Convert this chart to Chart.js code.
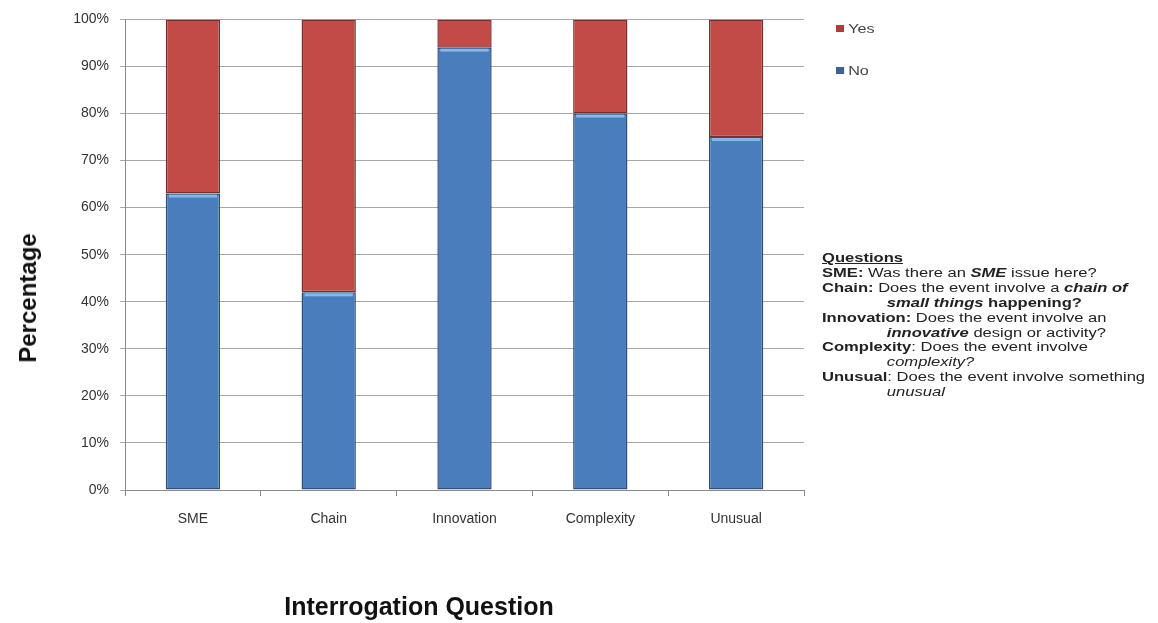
<!DOCTYPE html>
<html>
<head>
<meta charset="utf-8">
<script src="https://cdn.jsdelivr.net/npm/chart.js@4.4.1/dist/chart.umd.min.js"></script>
<style>
  body { margin: 0; background: #fff; font-family: "Liberation Sans", Arial, sans-serif; }
  #wrap { position: relative; width: 1158px; height: 623px; }
  .abs { position: absolute; white-space: nowrap; }
  .ytitle { left: 28px; top: 298px; font-size: 24px; font-weight: bold; color: #111;
            transform: translate(-50%, -50%) rotate(-90deg); }
  .xtitle { left: 419px; top: 594px; font-size: 25px; font-weight: bold; color: #111;
            transform: translate(-50%, 0); line-height: 25px; }
  .leg { font-size: 12px; color: #444; line-height: 14px; transform: scaleX(1.35); transform-origin: left center; }
  .leg i { display: inline-block; width: 6px; height: 7px; margin-right: 3px; vertical-align: 1px; }
  #notes { left: 822px; top: 251px; font-size: 12px; color: #222; line-height: 14.9px;
           transform: scaleX(1.38); transform-origin: left top; }
  #notes .ind { padding-left: 47px; }
</style>
</head>
<body>
<div id="wrap">
  <canvas id="chart"></canvas>
  <div class="abs ytitle">Percentage</div>
  <div class="abs xtitle">Interrogation Question</div>
  <div class="abs leg" style="left:836px;top:22px"><i style="background:#b23c39"></i>Yes</div>
  <div class="abs leg" style="left:836px;top:64px"><i style="background:#3f5f99"></i>No</div>
  <div class="abs" id="notes">
    <div><b><u>Questions</u></b></div>
    <div><b>SME:</b> Was there an <b><i>SME</i></b> issue here?</div>
    <div><b>Chain:</b> Does the event involve a <b><i>chain of</i></b></div>
    <div class="ind"><b><i>small things</i> happening?</b></div>
    <div><b>Innovation:</b> Does the event involve an</div>
    <div class="ind"><b><i>innovative</i></b> design or activity?</div>
    <div><b>Complexity</b>: Does the event involve</div>
    <div class="ind"><i>complexity?</i></div>
    <div><b>Unusual</b>: Does the event involve something</div>
    <div class="ind"><i>unusual</i></div>
  </div>
</div>
<script>
const categories = ["SME", "Chain", "Innovation", "Complexity", "Unusual"]
const noValues   = [63, 42, 94, 80, 75]
const yesValues  = [37, 58, 6, 20, 25]
const yTicks     = [0, 10, 20, 30, 40, 50, 60, 70, 80, 90, 100]

// light strip on top of each blue segment, like the Excel bevel
const highlight = {
  id: "highlight",
  afterDatasetDraw(chart, args) {
    if (args.index !== 0) return
    const ctx = chart.ctx
    ctx.save()
    ctx.fillStyle = "rgba(140,190,240,0.9)"
    for (const el of args.meta.data) {
      ctx.fillRect(el.x - el.width / 2 + 3, el.y + 1, el.width - 6, 3)
    }
    ctx.restore()
  },
}

new Chart(document.getElementById("chart"), {
  type: "bar",
  data: {
    labels: categories,
    datasets: [
      { label: "No", data: noValues, backgroundColor: "#4a7dbb", borderColor: "#2f4f7a", borderWidth: 1.5, borderSkipped: false },
      { label: "Yes", data: yesValues, backgroundColor: "#c24b47", borderColor: "#7a2e2c", borderWidth: 1.5, borderSkipped: false },
    ],
  },
  options: {
    responsive: true,
    maintainAspectRatio: false,
    animation: false,
    layout: { padding: { top: 16, right: 354, left: 0, bottom: 0 } },
    datasets: { bar: { barPercentage: 0.4, categoryPercentage: 1 } },
    scales: {
      x: {
        stacked: true,
        afterFit: (s) => { s.height = 133 },
        grid: { offset: true, drawOnChartArea: false, tickLength: 6, color: "#8a8a8a" },
        border: { color: "#8a8a8a" },
        ticks: { padding: 15, color: "#333", font: { family: "Liberation Sans", size: 14 } },
      },
      y: {
        stacked: true,
        min: 0,
        max: 100,
        afterFit: (s) => { s.width = 125 },
        afterBuildTicks: (s) => { s.ticks = yTicks.map(v => ({ value: v })) },
        grid: { color: "#a8a8a8", tickLength: 5 },
        border: { color: "#8a8a8a" },
        ticks: { padding: 11, color: "#333", font: { family: "Liberation Sans", size: 14 }, callback: (v) => v + "%" },
      },
    },
    plugins: { legend: { display: false }, tooltip: { enabled: false } },
  },
  plugins: [highlight],
})
</script>
</body>
</html>
